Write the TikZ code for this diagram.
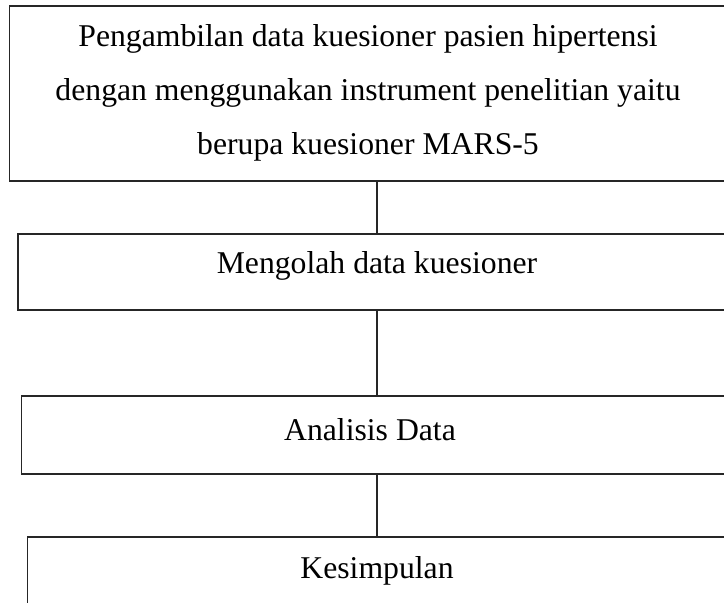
\documentclass[tikz,border=0pt]{standalone}
\usepackage{fontspec}
\setmainfont{Liberation Serif}
\begin{document}
\begin{tikzpicture}[x=1pt,y=1pt,
  box/.style={draw=black!85, line width=1.6pt, rectangle, inner sep=0pt, anchor=north west},
  lbl/.style={inner sep=0pt, anchor=base, font=\fontsize{31.7}{54}\selectfont, align=center},
  link/.style={draw=black!85, line width=1.6pt}]
\useasboundingbox (0,0) rectangle (724,-603);
\clip (0,0) rectangle (724,-603);
\fill[white] (0,0) rectangle (724,-603);
\node[box, minimum width=740, minimum height=175] (b1) at (8.5,-5) {};
\node[box, minimum width=740, minimum height=76] (b2) at (17,-233) {};
\node[box, minimum width=740, minimum height=78] (b3) at (20.5,-395) {};
\node[box, minimum width=740, minimum height=120] (b4) at (26.5,-536) {};
\node[lbl] (t1) at (368,-154) {Pengambilan data kuesioner pasien hipertensi\\dengan menggunakan instrument penelitian yaitu\\berupa kuesioner MARS-5};
\node[lbl] (t2) at (377,-273) {Mengolah data kuesioner};
\node[lbl] (t3) at (370,-440) {Analisis Data};
\node[lbl] (t4) at (377,-578) {Kesimpulan};
\coordinate (cx) at (376.7,0);
\draw[link] (cx |- b1.south) -- (cx |- b2.north);
\draw[link] (cx |- b2.south) -- (cx |- b3.north);
\draw[link] (cx |- b3.south) -- (cx |- b4.north);
\end{tikzpicture}
\end{document}
